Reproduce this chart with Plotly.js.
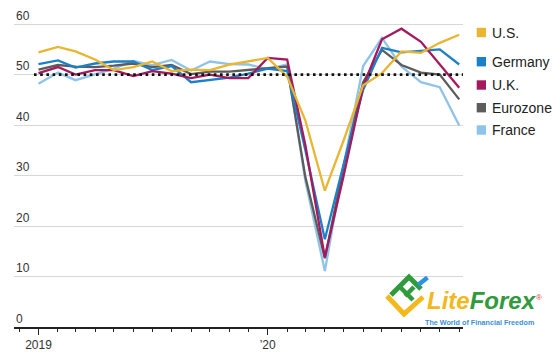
<!DOCTYPE html>
<html>
<head>
<meta charset="utf-8">
<script src="https://cdn.plot.ly/plotly-3.0.1.min.js"></script>
<style>html,body{margin:0;padding:0;background:#fff;}#chart{width:557px;height:354px;}</style>
</head>
<body>
<div id="chart"></div>
<script>
var months = ['2019-01','2019-02','2019-03','2019-04','2019-05','2019-06','2019-07','2019-08','2019-09','2019-10','2019-11','2019-12',
              '2020-01','2020-02','2020-03','2020-04','2020-05','2020-06','2020-07','2020-08','2020-09','2020-10','2020-11'];
var seriesNames = ['U.S.','Germany','U.K.','Eurozone','France'];
var us       = [54.4,55.5,54.6,53.0,50.9,51.5,52.6,50.7,51.0,50.9,52.0,52.7,53.3,49.6,40.9,27.0,37.0,47.9,50.3,54.6,54.3,56.3,57.9];
var germany  = [52.1,52.8,51.4,52.2,52.6,52.6,50.9,51.7,48.5,48.9,49.4,50.2,51.2,50.7,35.0,17.4,32.3,47.0,55.3,54.4,54.7,55.0,52.0];
var uk       = [50.3,51.5,50.0,50.9,50.9,49.7,50.7,50.2,49.3,50.0,49.3,49.3,53.3,53.0,36.0,13.8,30.0,47.7,57.0,59.1,56.5,52.1,47.4];
var eurozone = [51.0,51.9,51.6,51.5,51.8,52.2,51.5,51.9,50.1,50.6,50.6,50.9,51.3,51.6,29.7,13.6,31.9,48.5,54.9,51.9,50.4,50.0,45.1];
var france   = [48.2,50.4,48.9,50.1,51.2,52.7,51.9,52.9,50.8,52.6,52.1,52.0,51.1,52.0,28.9,11.1,32.1,51.7,57.3,51.6,48.5,47.5,39.9];
var xTickVals = ['2019-01-01','2020-01-01'];
var xTickText = ['2019','\u201920'];
var yTickVals = [0,10,20,30,40,50,60];
var threshold = 50;

var colors = {'U.S.':'#e8b631','Germany':'#1b80c8','U.K.':'#a51a5e','Eurozone':'#5c5c5c','France':'#8fc3ea'};
var values = {'U.S.':us,'Germany':germany,'U.K.':uk,'Eurozone':eurozone,'France':france};
var drawOrder = ['France','Eurozone','Germany','U.K.','U.S.'];

var traces = drawOrder.map(function(n){
  return {x: months, y: values[n], type:'scatter', mode:'lines', name:n,
          line:{color:colors[n], width:2.3}, showlegend:false, hoverinfo:'skip'};
});

// pixel -> paper helpers (plot area: x 14..463, y 9..327)
var L=14, R=463, T=9, B=327;
function pX(x){return (x-L)/(R-L);}
function pY(y){return (B-y)/(B-T);}

var shapes = [
  {type:'line', xref:'paper', yref:'y', x0:pX(34), x1:1, y0:threshold, y1:threshold,
   line:{color:'#111', width:2.6, dash:'2.6px,3.6px'}, layer:'above'}
];
var annotations = [];

// y tick labels sitting above their gridlines
yTickVals.forEach(function(v){
  annotations.push({xref:'paper', yref:'y', x:0, y:v, xanchor:'left', yanchor:'bottom', yshift:-0.5,
                    text:String(v), showarrow:false,
                    font:{family:'Liberation Sans, Arial, sans-serif', size:12, color:'#333'}});
});

var legendY = [32.5, 61.7, 85, 107.7, 130];
seriesNames.forEach(function(n,i){
  var c = legendY[i];
  shapes.push({type:'rect', xref:'paper', yref:'paper', x0:pX(476.7), x1:pX(486), y0:pY(c+4.7), y1:pY(c-4.7),
               fillcolor:colors[n], line:{width:0}});
  annotations.push({xref:'paper', yref:'paper', x:pX(490), y:pY(c), xanchor:'left', yanchor:'middle',
                    text:n, showarrow:false, font:{family:'Liberation Sans, Arial, sans-serif', size:14, color:'#222'}});
});

// watermark logo
shapes.push({type:'path', xref:'paper', yref:'paper', layer:'above',
  path:'M '+pX(387)+' '+pY(296)+' L '+pX(404)+' '+pY(314)+' L '+pX(423)+' '+pY(297),
  line:{color:'#f2b81c', width:5}});
shapes.push({type:'path', xref:'paper', yref:'paper', layer:'above',
  path:'M '+pX(391)+' '+pY(295)+' L '+pX(409)+' '+pY(277)+' L '+pX(421)+' '+pY(289),
  line:{color:'#2f9b3c', width:5}});
shapes.push({type:'path', xref:'paper', yref:'paper', layer:'above',
  path:'M '+pX(399)+' '+pY(286)+' L '+pX(413)+' '+pY(300)+' M '+pX(405)+' '+pY(296)+' L '+pX(414)+' '+pY(287),
  line:{color:'#2f9b3c', width:4.5}});
shapes.push({type:'path', xref:'paper', yref:'paper', layer:'above',
  path:'M '+pX(418)+' '+pY(285)+' L '+pX(427.5)+' '+pY(277.5),
  line:{color:'#2a93dc', width:4.5}});
annotations.push({xref:'paper', yref:'paper', x:pX(425), y:pY(316), xanchor:'left', yanchor:'bottom', showarrow:false,
  text:'<b><i><span style="color:#f2b81c">Lite</span><span style="color:#2f9b3c">Forex</span></i></b>',
  font:{family:'Liberation Sans, Arial, sans-serif', size:24, color:'#2f9b3c'}});
annotations.push({xref:'paper', yref:'paper', x:pX(423), y:pY(316), xanchor:'left', yanchor:'top', showarrow:false,
  text:'<b>The World of Financial Freedom</b>',
  font:{family:'Liberation Sans, Arial, sans-serif', size:7.2, color:'#3b8fd6'}});
annotations.push({xref:'paper', yref:'paper', x:pX(538.5), y:pY(297), xanchor:'center', yanchor:'middle', showarrow:false,
  text:'\u00ae', font:{family:'Liberation Sans, Arial, sans-serif', size:8, color:'#e0453f'}});

var layout = {
  width:557, height:354, autosize:false,
  margin:{l:L, r:557-R, t:T, b:354-B, pad:0},
  paper_bgcolor:'#fff', plot_bgcolor:'#fff',
  showlegend:false,
  font:{family:'Liberation Sans, Arial, sans-serif', size:12, color:'#333'},
  xaxis:{type:'date', range:['2018-11-23','2020-11-07'],
         tickmode:'array', tickvals:xTickVals, ticktext:xTickText,
         ticks:'outside', ticklen:6, tickwidth:1.2, tickcolor:'#222',
         showgrid:false, zeroline:false, showline:true, linecolor:'#222', linewidth:1.6,
         tickfont:{size:12, color:'#333'},
         minor:{tickmode:'linear', tick0:'2019-01-01', dtick:'M1', ticks:'outside', ticklen:3.5, tickwidth:1, tickcolor:'#222', showgrid:false},
         fixedrange:true},
  yaxis:{range:[0,63], tickmode:'array', tickvals:yTickVals, showticklabels:false,
         showgrid:true, gridcolor:'#d8d8d8', gridwidth:1, zeroline:false, showline:false,
         ticks:'', fixedrange:true},
  shapes:shapes, annotations:annotations
};

Plotly.newPlot('chart', traces, layout, {displayModeBar:false, staticPlot:true});
</script>
</body>
</html>
